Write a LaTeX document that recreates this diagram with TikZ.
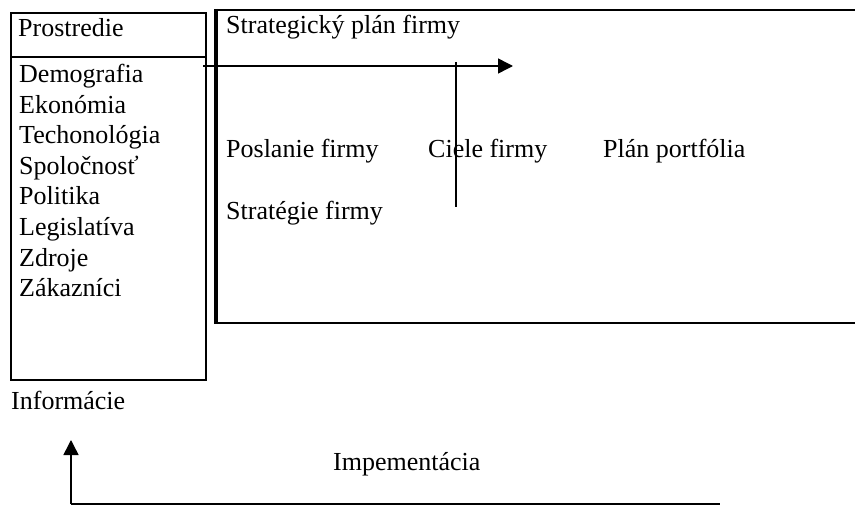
\documentclass[tikz,border=0pt]{standalone}
\usepackage{fontspec}
\setmainfont{Liberation Serif}
\usetikzlibrary{arrows.meta}
\begin{document}
\begin{tikzpicture}[x=1pt,y=-1pt,
    txt/.style={anchor=base west, inner sep=0pt, font=\fontsize{26}{30}\selectfont},
    sipka/.style={-{Triangle[length=15pt,width=15pt]}, line width=1.5pt}]
        \useasboundingbox (0,0) rectangle (855,508);

        % Prostredie
        \draw[line width=1.5pt] (11,13) rectangle (206,380);
        \draw[line width=1.5pt] (11,57) -- (206,57);
        \node[txt] (prostredie) at (18,37) {Prostredie};
        \node[txt] (demografia) at (19,83) {Demografia};
        \node[txt] (ekonomia) at (19,113.5) {Ekonómia};
        \node[txt] (technologia) at (19,144) {Techonológia};
        \node[txt] (spolocnost) at (19,174.5) {Spoločnosť};
        \node[txt] (politika) at (19,205) {Politika};
        \node[txt] (legislativa) at (19,235.5) {Legislatíva};
        \node[txt] (zdroje) at (19,266) {Zdroje};
        \node[txt] (zakaznici) at (19,296.5) {Zákazníci};

        % Strategický plán
        \draw[line width=2pt] (216,10) rectangle (875,323);
        \draw[line width=4.5pt] (216,9) -- (216,324);
        \node[txt] (plan) at (226,34) {Strategický plán firmy};
        \node[txt] (poslanie) at (226,158) {Poslanie firmy};
        \node[txt] (ciele) at (428,158) {Ciele firmy};
        \node[txt] (portfolio) at (603,158) {Plán portfólia};
        \node[txt] (strategie) at (226,220) {Stratégie firmy};

        % Šípka a zvislá čiara
        \coordinate (zaciatok) at (203,66);
        \coordinate (koniec) at (513,66);
        \draw[sipka] (zaciatok) -- (koniec);
        \coordinate (hore) at (456,62);
        \coordinate (dole) at (456,207);
        \draw[line width=1.5pt] (hore) -- (dole);

        % Spätná väzba
        \node[txt] (informacie) at (11,409) {Informácie};
        \node[txt] (implementacia) at (333,470) {Impementácia};
        \coordinate (roh) at (71,504);
        \coordinate (hrot) at (71,440);
        \coordinate (koniecH) at (720,504);
        \draw[sipka] (roh) -- (hrot);
        \draw[line width=2pt] (roh) -- (koniecH);
    \end{tikzpicture}
\end{document}
